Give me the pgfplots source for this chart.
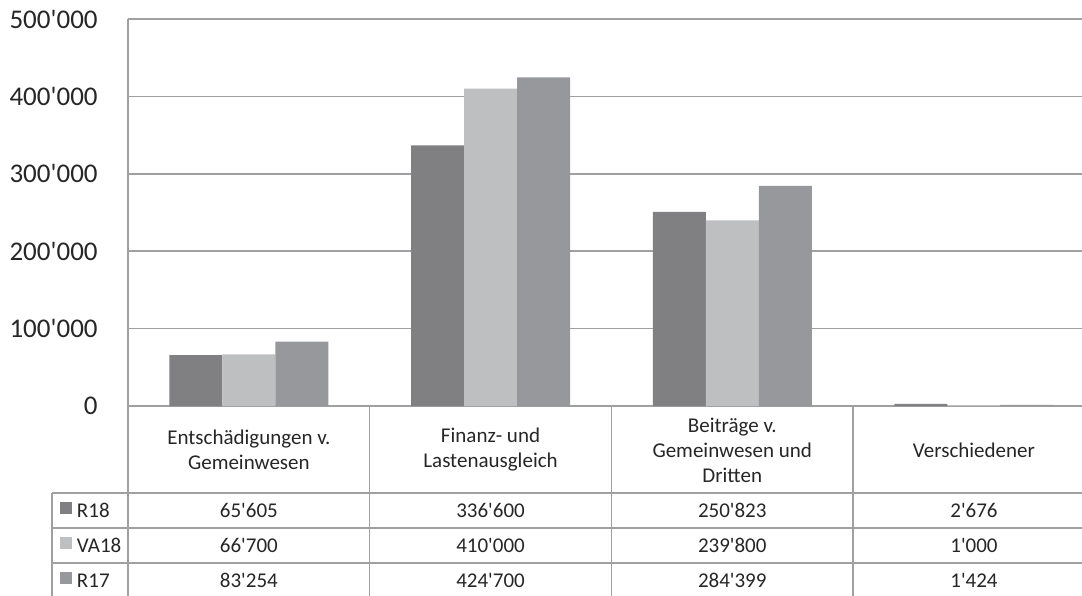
\documentclass[border=0pt]{standalone}
\usepackage{pgfplots}
\pgfplotsset{compat=1.18}
\usepackage{fontspec}
\setmainfont{Carlito}[Ligatures=TeXOff]
\definecolor{cA}{RGB}{128,128,131}
\definecolor{cB}{RGB}{190,191,193}
\definecolor{cC}{RGB}{151,152,155}
\definecolor{gridc}{RGB}{160,160,162}
\definecolor{txt}{RGB}{38,38,38}
\begin{document}
\begin{tikzpicture}
\begin{axis}[
  at={(0pt,0pt)}, anchor=south west,
  scale only axis, width=477pt, height=193.5pt,
  xmin=-0.5, xmax=3.447, ymin=0, ymax=500000,
  ybar=0pt, bar width=26.5pt,
  scaled y ticks=false,
  ytick={0,100000,200000,300000,400000,500000},
  yticklabels={0,100'000,200'000,300'000,400'000,500'000},
  xtick=\empty,
  ymajorgrids, grid style={gridc, line width=0.75pt},
  axis line style={draw=none}, major tick length=0pt,
  /pgf/number format/assume math mode=true,
  yticklabel style={font=\fontsize{13.5}{16}\selectfont, text=txt, inner sep=0pt, anchor=east, xshift=-15pt},
  clip=false,
  area legend,
  legend cell align=left,
  legend image code/.code={\fill[#1] (0pt,-1.6pt) rectangle (6pt,4.4pt);},
  legend style={at={(-0.0713,-0.2248)}, anchor=north west, draw=none, fill=none,
    inner sep=0pt, outer sep=0pt, row sep=0pt,
    font=\fontsize{10.5}{12.5}\selectfont, text=txt,
    nodes={inner sep=0pt, text height=12.15pt, text depth=5.35pt},
    /tikz/every odd column/.append style={column sep=2.5pt}},
]
\addplot[fill=cA, draw=none] coordinates {(0,65605) (1,336600) (2,250823) (3,2676)};
\addplot[fill=cB, draw=none] coordinates {(0,66700) (1,410000) (2,239800) (3,1000)};
\addplot[fill=cC, draw=none] coordinates {(0,83254) (1,424700) (2,284399) (3,1424)};
\legend{R18,VA18,R17}
% table grid
\draw[gridc, line width=0.75pt] (axis cs:-0.5,500000) -- (axis cs:-0.5,-250000);
\draw[gridc, line width=0.75pt] (axis cs:-0.8144,-112403) -- (axis cs:3.447,-112403);
\draw[gridc, line width=0.75pt] (axis cs:-0.8144,-157623) -- (axis cs:3.447,-157623);
\draw[gridc, line width=0.75pt] (axis cs:-0.8144,-202842) -- (axis cs:3.447,-202842);
\draw[gridc, line width=0.75pt] (axis cs:-0.8144,-112403) -- (axis cs:-0.8144,-250000);
\draw[gridc, line width=0.75pt] (axis cs:0.5,0) -- (axis cs:0.5,-250000);
\draw[gridc, line width=0.75pt] (axis cs:1.5,0) -- (axis cs:1.5,-250000);
\draw[gridc, line width=0.75pt] (axis cs:2.5,0) -- (axis cs:2.5,-250000);
% header
\begin{scope}[every node/.style={font=\fontsize{10.5}{12.5}\selectfont, text=txt, align=center, inner sep=0pt}]
\node at (axis cs:0,-56848) {Entschädigungen v.\\Gemeinwesen};
\node at (axis cs:1,-56848) {Finanz- und\\Lastenausgleich};
\node at (axis cs:2,-56848) {Beiträge v.\\Gemeinwesen und\\Dritten};
\node at (axis cs:3,-56848) {Verschiedener};
\node at (axis cs:0,-135013) {65'605};
\node at (axis cs:1,-135013) {336'600};
\node at (axis cs:2,-135013) {250'823};
\node at (axis cs:3,-135013) {2'676};
\node at (axis cs:0,-180233) {66'700};
\node at (axis cs:1,-180233) {410'000};
\node at (axis cs:2,-180233) {239'800};
\node at (axis cs:3,-180233) {1'000};
\node at (axis cs:0,-225452) {83'254};
\node at (axis cs:1,-225452) {424'700};
\node at (axis cs:2,-225452) {284'399};
\node at (axis cs:3,-225452) {1'424};
\end{scope}
\end{axis}
\pgfresetboundingbox
\useasboundingbox (-64pt,-94.5pt) rectangle (477pt,203pt);
\end{tikzpicture}
\end{document}
